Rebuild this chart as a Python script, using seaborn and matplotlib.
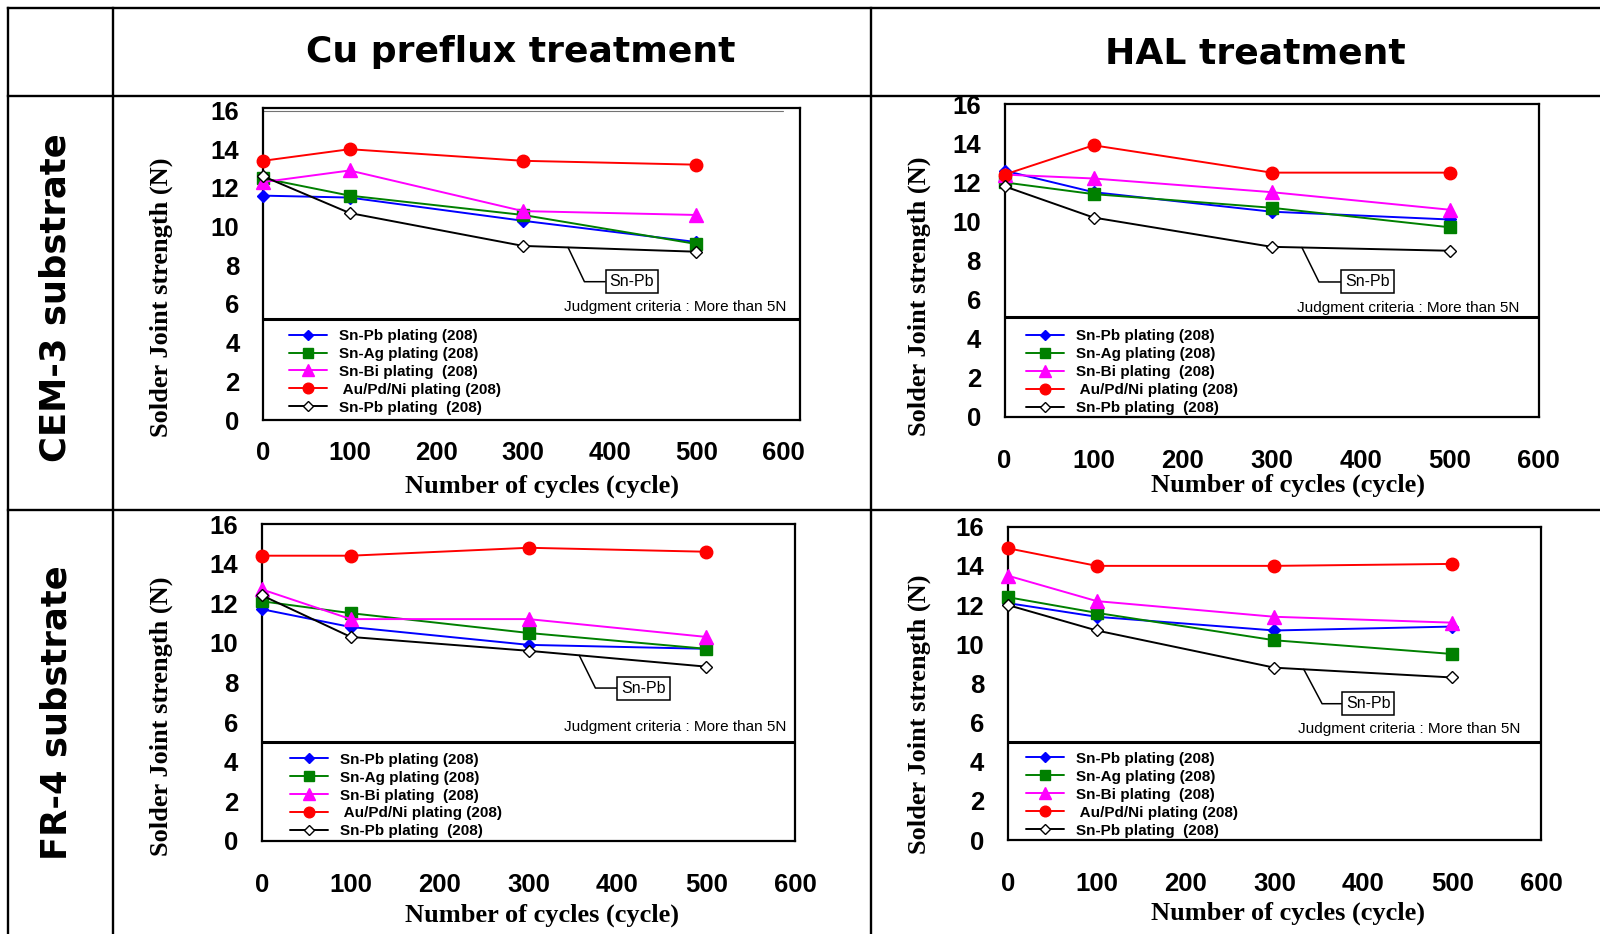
import numpy as np
import pandas as pd
import matplotlib
matplotlib.use("Agg")
import matplotlib.pyplot as plt
import seaborn as sns
from matplotlib import font_manager as fm
from matplotlib.lines import Line2D

# ---------------- data ----------------
CYCLES = [0, 100, 300, 500]
X_TICKS = [0, 100, 200, 300, 400, 500, 600]
Y_TICKS = [0, 2, 4, 6, 8, 10, 12, 14, 16]
SERIES = ["Sn-Pb plating (208)", "Sn-Ag plating (208)", "Sn-Bi plating  (208)",
          " Au/Pd/Ni plating (208)", "Sn-Pb plating  (208)"]
COL_TITLES = ["Cu preflux treatment", "HAL treatment"]
ROW_TITLES = ["CEM-3 substrate", "FR-4 substrate"]
Y_LABEL = "Solder Joint strength (N)"
X_LABEL = "Number of cycles (cycle)"
CALLOUT = "Sn-Pb"
CRITERIA_TEXT = "Judgment criteria : More than 5N"

# Cu preflux treatment / CEM-3 substrate
cu_cem3_snpb = [11.6, 11.5, 10.3, 9.2]
cu_cem3_snag = [12.5, 11.6, 10.6, 9.1]
cu_cem3_snbi = [12.3, 12.9, 10.8, 10.6]
cu_cem3_aupdni = [13.4, 14.0, 13.4, 13.2]
cu_cem3_snpb_ref = [12.6, 10.7, 9.0, 8.7]

# HAL treatment / CEM-3 substrate
hal_cem3_snpb = [12.6, 11.5, 10.5, 10.1]
hal_cem3_snag = [12.0, 11.4, 10.7, 9.7]
hal_cem3_snbi = [12.4, 12.2, 11.5, 10.6]
hal_cem3_aupdni = [12.4, 13.9, 12.5, 12.5]
hal_cem3_snpb_ref = [11.8, 10.2, 8.7, 8.5]

# Cu preflux treatment / FR-4 substrate
cu_fr4_snpb = [11.7, 10.8, 9.9, 9.7]
cu_fr4_snag = [12.1, 11.5, 10.5, 9.7]
cu_fr4_snbi = [12.7, 11.2, 11.2, 10.3]
cu_fr4_aupdni = [14.4, 14.4, 14.8, 14.6]
cu_fr4_snpb_ref = [12.4, 10.3, 9.6, 8.8]

# HAL treatment / FR-4 substrate
hal_fr4_snpb = [12.1, 11.4, 10.7, 10.9]
hal_fr4_snag = [12.4, 11.6, 10.2, 9.5]
hal_fr4_snbi = [13.5, 12.2, 11.4, 11.1]
hal_fr4_aupdni = [14.9, 14.0, 14.0, 14.1]
hal_fr4_snpb_ref = [12.0, 10.7, 8.8, 8.3]

CRITERIA_LEVEL = [5.2, 5.1, 5.0, 5.0]

PANEL_DATA = [
    [cu_cem3_snpb, cu_cem3_snag, cu_cem3_snbi, cu_cem3_aupdni, cu_cem3_snpb_ref],
    [hal_cem3_snpb, hal_cem3_snag, hal_cem3_snbi, hal_cem3_aupdni, hal_cem3_snpb_ref],
    [cu_fr4_snpb, cu_fr4_snag, cu_fr4_snbi, cu_fr4_aupdni, cu_fr4_snpb_ref],
    [hal_fr4_snpb, hal_fr4_snag, hal_fr4_snbi, hal_fr4_aupdni, hal_fr4_snpb_ref],
]

# ---------------- styles / layout ----------------
W, H = 1600, 934
names = {f.name for f in fm.fontManager.ttflist}
SANS = "Liberation Sans" if "Liberation Sans" in names else "DejaVu Sans"
SERIF = "Liberation Serif" if "Liberation Serif" in names else "DejaVu Serif"

STYLES = [
    dict(color="#0000ff", marker="D", ms=6.0, mfc="#0000ff", mec="#0000ff"),
    dict(color="#008000", marker="s", ms=8.5, mfc="#008000", mec="#008000"),
    dict(color="#ff00ff", marker="^", ms=9.5, mfc="#ff00ff", mec="#ff00ff"),
    dict(color="#ff0000", marker="o", ms=9.0, mfc="#ff0000", mec="#ff0000"),
    dict(color="#000000", marker="D", ms=6.5, mfc="#ffffff", mec="#000000"),
]

LAYOUT = [
    dict(rect=(263, 108, 800, 420), xlim=(0, 619.6), ylim=(0, 16.13), xpad=15,
         ylab=(-0.19, 0.395), xlab=(0.519, -0.214), leg=(0.292, 0.048),
         crit_x=0.974, crit_dy=0.62, anchor_x=352, text_xy=(425.6, 7.15), angB=-64.5,
         top_rule=True),
    dict(rect=(1004.5, 104.3, 1538.8, 416.7), xlim=(0, 600), ylim=(0, 16), xpad=23,
         ylab=(-0.16, 0.384), xlab=(0.531, -0.219), leg=(0.280, 0.040),
         crit_x=0.964, crit_dy=0.48, anchor_x=334, text_xy=(407.6, 6.9), angB=-63.7,
         top_rule=False),
    dict(rect=(261.8, 524, 795.3, 841), xlim=(0, 600), ylim=(0, 16), xpad=23,
         ylab=(-0.189, 0.395), xlab=(0.525, -0.233), leg=(0.279, 0.053),
         crit_x=0.983, crit_dy=0.73, anchor_x=357, text_xy=(429.4, 7.72), angB=-63.7,
         top_rule=False),
    dict(rect=(1007.8, 526.7, 1541.1, 840), xlim=(0, 600), ylim=(0, 16), xpad=23,
         ylab=(-0.166, 0.40), xlab=(0.525, -0.233), leg=(0.282, 0.034),
         crit_x=0.961, crit_dy=0.69, anchor_x=333, text_xy=(405.4, 6.96), angB=-62.0,
         top_rule=False),
]

sns.set_style("white")
plt.rcParams["font.family"] = [SANS, "DejaVu Sans"]
for k in ["text.color", "axes.labelcolor", "xtick.color", "ytick.color", "axes.edgecolor"]:
    plt.rcParams[k] = "black"

fig = plt.figure(figsize=(W / 100, H / 100), dpi=100)
fig.patch.set_facecolor("white")


def px_rect(l, t, r, b):
    return [l / W, 1 - b / H, (r - l) / W, (b - t) / H]


def fig_line(x0, y0, x1, y1, lw=1.7):
    fig.add_artist(Line2D([x0 / W, x1 / W], [1 - y0 / H, 1 - y1 / H],
                          transform=fig.transFigure, color="black", lw=lw,
                          solid_capstyle="projecting"))


# table grid
fig_line(8, 8, 1600, 8)
fig_line(8, 96, 1600, 96)
fig_line(8, 510, 1600, 510)
fig_line(8, 8, 8, 934)
fig_line(113, 8, 113, 934)
fig_line(871, 8, 871, 934)

# headers
fig.text(521 / W, 1 - 52 / H, COL_TITLES[0], ha="center", va="center",
         fontsize=26, fontweight="bold", family="DejaVu Sans", color="black")
fig.text(1255 / W, 1 - 53 / H, COL_TITLES[1], ha="center", va="center",
         fontsize=26, fontweight="bold", family="DejaVu Sans", color="black")
fig.text(56 / W, 1 - 298 / H, ROW_TITLES[0], ha="center", va="center", rotation=90,
         fontsize=25.5, fontweight="bold", family="DejaVu Sans", color="black")
fig.text(57 / W, 1 - 713 / H, ROW_TITLES[1], ha="center", va="center", rotation=90,
         fontsize=25.5, fontweight="bold", family="DejaVu Sans", color="black")

for i, p in enumerate(LAYOUT):
    ax = fig.add_axes(px_rect(*p["rect"]))
    ax.set_facecolor("white")
    rows = []
    for name, vals in zip(SERIES, PANEL_DATA[i]):
        for c, v in zip(CYCLES, vals):
            rows.append(dict(cycle=c, strength=v, plating=name))
    df = pd.DataFrame(rows)

    ax.axhline(CRITERIA_LEVEL[i], color="black", lw=2.2, zorder=2)
    if p["top_rule"]:
        ax.axhline(16, xmin=0, xmax=600 / p["xlim"][1], color="0.45", lw=0.8, zorder=1)

    for name, st in zip(SERIES, STYLES):
        sub = df[df["plating"] == name]
        sns.lineplot(data=sub, x="cycle", y="strength", ax=ax, label=name,
                     color=st["color"], marker=st["marker"], markersize=st["ms"],
                     markerfacecolor=st["mfc"], markeredgecolor=st["mec"],
                     markeredgewidth=1.0, linewidth=1.4, clip_on=False, zorder=3,
                     errorbar=None)

    ax.set_xlim(*p["xlim"])
    ax.set_ylim(*p["ylim"])
    ax.set_xticks(X_TICKS)
    ax.set_yticks(Y_TICKS)
    ax.set_xticklabels([str(v) for v in X_TICKS], fontsize=18.5, fontweight="bold", family=SANS)
    ax.set_yticklabels([str(v) for v in Y_TICKS], fontsize=18.5, fontweight="bold", family=SANS)
    ax.tick_params(axis="both", direction="in", length=8, width=1.2, color="black",
                   labelcolor="black")
    ax.tick_params(axis="x", pad=p["xpad"])
    ax.tick_params(axis="y", pad=17)
    for s in ax.spines.values():
        s.set_visible(True)
        s.set_linewidth(1.6)
        s.set_color("black")

    ax.set_ylabel(Y_LABEL, family=SERIF, fontweight="bold", fontsize=19, color="black")
    ax.yaxis.set_label_coords(*p["ylab"])
    ax.yaxis.label.set_verticalalignment("center")
    ax.set_xlabel(X_LABEL, family=SERIF, fontweight="bold", fontsize=19, color="black")
    ax.xaxis.set_label_coords(*p["xlab"])
    ax.xaxis.label.set_verticalalignment("center")

    ax.text(p["crit_x"], CRITERIA_LEVEL[i] + p["crit_dy"], CRITERIA_TEXT,
            transform=ax.get_yaxis_transform(), ha="right", va="center",
            fontsize=11, family=SANS, color="black")

    ref = PANEL_DATA[i][4]
    ay = float(np.interp(p["anchor_x"], CYCLES, ref))
    ax.annotate(CALLOUT, xy=(p["anchor_x"], ay), xytext=p["text_xy"],
                textcoords="data", ha="center", va="center", fontsize=11.5, family=SANS,
                color="black",
                bbox=dict(boxstyle="square,pad=0.25", fc="white", ec="black", lw=1.1),
                arrowprops=dict(arrowstyle="-", color="black", lw=1.1, shrinkA=0, shrinkB=0,
                                connectionstyle=f"angle,angleA=0,angleB={p['angB']},rad=0"),
                zorder=4)

    handles, labels = ax.get_legend_handles_labels()
    leg_y, leg_x = p["leg"]
    ax.legend(handles, labels, loc="upper left", bbox_to_anchor=(leg_x, leg_y), frameon=False,
              prop=dict(family=SANS, weight="bold", size=11), handlelength=2.5,
              handletextpad=0.8, labelspacing=0.26, borderpad=0, borderaxespad=0,
              markerscale=0.85, labelcolor="black")

fig.savefig("out.png", dpi=100, facecolor="white")
